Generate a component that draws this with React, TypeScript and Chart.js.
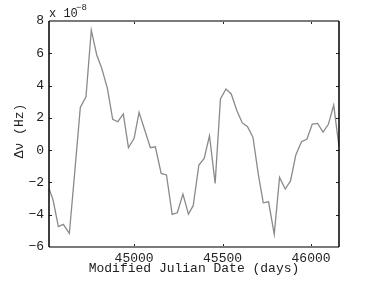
import React, { useEffect, useRef } from "react";
import { Chart, registerables } from "chart.js";

Chart.register(...registerables);

const mjd: number[] = [
  44519, 44542, 44572, 44600, 44634, 44665, 44696, 44728, 44758, 44789,
  44817, 44849, 44879, 44908, 44939, 44968, 45000, 45028, 45060, 45092,
  45120, 45153, 45183, 45215, 45244, 45276, 45307, 45334, 45366, 45396,
  45426, 45458, 45488, 45519, 45549, 45581, 45611, 45641, 45672, 45702,
  45730, 45760, 45792, 45822, 45854, 45884, 45914, 45946, 45977, 46007,
  46037, 46068, 46098, 46128, 46158,
];

const dnu: number[] = [
  -2.37, -3.09, -4.74, -4.6, -5.16, -1.3, 2.65, 3.31, 7.44, 5.89,
  5.07, 3.83, 1.91, 1.76, 2.24, 0.15, 0.73, 2.34, 1.25, 0.15,
  0.21, -1.44, -1.54, -3.98, -3.88, -2.72, -3.96, -3.44, -0.92, -0.51,
  0.89, -2.06, 3.17, 3.79, 3.48, 2.44, 1.7, 1.45, 0.79, -1.5,
  -3.26, -3.2, -5.22, -1.69, -2.41, -1.91, -0.3, 0.52, 0.69, 1.62,
  1.66, 1.12, 1.6, 2.79, 0.21,
];

const xTicks: number[] = [45000, 45500, 46000];
const yTicks: number[] = [-6, -4, -2, 0, 2, 4, 6, 8];
const xMin = 44519;
const xMax = 46158;
const yMin = -6;
const yMax = 8;

const FONT = "'Liberation Mono', 'DejaVu Sans Mono', monospace";

const fmt = (v: number) => (v < 0 ? "\u2212" + Math.abs(v) : String(v));

const framePlugin = {
  id: "frame",
  afterDraw(chart: any) {
    const { ctx, chartArea } = chart;
    const { left, right, top, bottom } = chartArea;
    const xs = chart.scales.x;
    const ys = chart.scales.y;
    ctx.save();
    // ticks inside
    ctx.strokeStyle = "#222";
    ctx.lineWidth = 1;
    const tl = 3;
    xTicks.forEach((v) => {
      const px = Math.round(xs.getPixelForValue(v)) + 0.5;
      ctx.beginPath();
      ctx.moveTo(px, bottom);
      ctx.lineTo(px, bottom - tl);
      ctx.moveTo(px, top);
      ctx.lineTo(px, top + tl);
      ctx.stroke();
    });
    yTicks.forEach((v) => {
      const py = Math.round(ys.getPixelForValue(v)) + 0.5;
      ctx.beginPath();
      ctx.moveTo(left, py);
      ctx.lineTo(left + tl, py);
      ctx.moveTo(right, py);
      ctx.lineTo(right - tl, py);
      ctx.stroke();
    });
    // frame
    ctx.lineWidth = 2;
    ctx.strokeStyle = "#7a7a7a";
    ctx.beginPath();
    ctx.moveTo(left, top);
    ctx.lineTo(right, top);
    ctx.moveTo(left, bottom);
    ctx.lineTo(right, bottom);
    ctx.stroke();
    ctx.strokeStyle = "#000";
    ctx.lineWidth = 1.5;
    ctx.beginPath();
    ctx.moveTo(left, top);
    ctx.lineTo(left, bottom);
    ctx.moveTo(right, top);
    ctx.lineTo(right, bottom);
    ctx.stroke();

    // texts
    ctx.fillStyle = "#222";
    ctx.font = `12px ${FONT}`;
    ctx.textAlign = "left";
    ctx.textBaseline = "alphabetic";
    ctx.fillText("x 10", left, 17);
    ctx.font = `9px ${FONT}`;
    ctx.fillText("\u22128", left + 27, 10);

    ctx.font = `13px ${FONT}`;
    ctx.textAlign = "center";
    ctx.textBaseline = "middle";
    ctx.fillText("Modified Julian Date (days)", (left + right) / 2, 269);

    ctx.translate(20, (top + bottom) / 2 - 3);
    ctx.rotate(-Math.PI / 2);
    ctx.fillText("\u0394\u03bd (Hz)", 0, 0);
    ctx.restore();
  },
};

export default function App() {
  const ref = useRef<HTMLCanvasElement | null>(null);
  useEffect(() => {
    document.body.style.margin = "0";
    const canvas = ref.current;
    if (!canvas) return;
    const points = mjd.map((x, i) => ({ x, y: dnu[i] }));
    const chart = new Chart(canvas, {
      type: "line",
      data: {
        datasets: [
          {
            data: points,
            borderColor: "#8a8a8a",
            borderWidth: 1.3,
            pointRadius: 0,
            tension: 0,
            fill: false,
          },
        ],
      },
      options: {
        animation: false,
        responsive: false,
        maintainAspectRatio: false,
        devicePixelRatio: 1,
        layout: { padding: { top: 21, right: 35, left: 0, bottom: 0 } },
        plugins: {
          legend: { display: false },
          tooltip: { enabled: false },
        },
        scales: {
          x: {
            type: "linear",
            min: xMin,
            max: xMax,
            grid: { display: false, drawTicks: false },
            border: { display: false },
            afterBuildTicks: (s: any) => {
              s.ticks = xTicks.map((v) => ({ value: v }));
            },
            afterFit: (s: any) => {
              s.height = 34;
            },
            ticks: {
              padding: 4,
              color: "#222",
              font: { family: FONT, size: 13 },
              maxRotation: 0,
              callback: (v: any) => String(v),
            },
          },
          y: {
            type: "linear",
            min: yMin,
            max: yMax,
            grid: { display: false, drawTicks: false },
            border: { display: false },
            afterBuildTicks: (s: any) => {
              s.ticks = yTicks.map((v) => ({ value: v }));
            },
            afterFit: (s: any) => {
              s.width = 49;
            },
            ticks: {
              padding: 5,
              color: "#222",
              font: { family: FONT, size: 13 },
              callback: (v: any) => fmt(Number(v)),
            },
          },
        },
      },
      plugins: [framePlugin],
    });
    return () => chart.destroy();
  }, []);
  return (
    <div style={{ position: "fixed", left: 0, top: 0, width: 374, height: 281, background: "#fff" }}>
      <canvas ref={ref} width={374} height={281} style={{ display: "block", width: 374, height: 281 }} />
    </div>
  );
}
